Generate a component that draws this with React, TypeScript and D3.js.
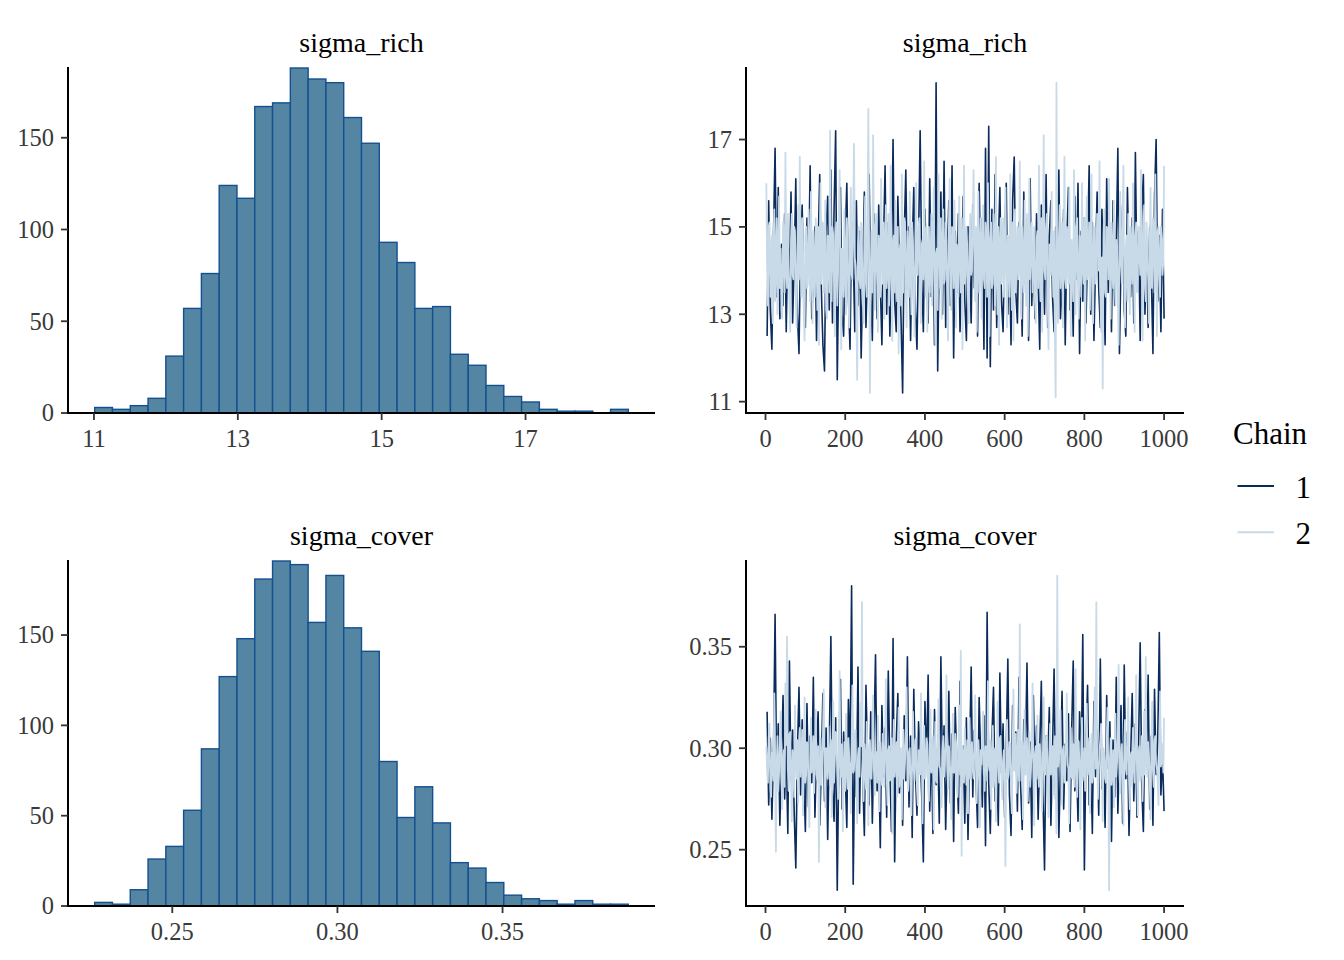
import React from 'react';
import * as d3 from 'd3';

// ---------------- DATA ----------------
const paramNames = ['sigma_rich', 'sigma_cover'];
const chainLabels = ['1', '2'];

// histogram counts (30 bins each)
const richCounts = [3, 2, 4, 8, 31, 57, 76, 124, 117, 167, 169, 188, 182, 180, 161, 147, 93, 82, 57, 58, 32, 26, 15, 9, 6, 2, 1, 1, 0, 2];
const richBinStart = 11.01;
const richBinWidth = 0.2473;
const coverCounts = [2, 1, 9, 26, 33, 53, 87, 127, 148, 181, 191, 189, 157, 183, 154, 141, 80, 49, 66, 46, 24, 21, 13, 6, 4, 3, 1, 3, 1, 1];
const coverBinStart = 0.2265;
const coverBinWidth = 0.005386;

// tick values
const richHistXTicks = [11, 13, 15, 17];
const coverHistXTicks = [0.25, 0.3, 0.35];
const histYTicks = [0, 50, 100, 150];
const traceXTicks = [0, 200, 400, 600, 800, 1000];
const richTraceYTicks = [11, 13, 15, 17];
const coverTraceYTicks = [0.25, 0.3, 0.35];

// trace draws over 1000 iterations (chain 1 thinned to every 4th, chain 2 to every 2nd)
const N_ITER = 1000;

const richChain1 = [
  12.5, 15.6, 13.1, 12.2, 14.8, 16.8, 13.4, 15.9, 12.9, 14.6,
  13.2, 15.3, 12.6, 14.9, 13.7, 15.8, 12.8, 14.2, 16.1, 13.0,
  12.1, 14.7, 15.5, 13.3, 12.7, 15.2, 14.0, 16.4, 12.9, 13.8,
  15.0, 12.4, 14.5, 16.2, 13.6, 12.3, 11.7, 14.9, 15.7, 13.1,
  16.3, 12.8, 15.4, 17.2, 11.5, 14.3, 15.9, 13.0, 12.5, 14.8,
  16.0, 13.4, 12.2, 15.1, 14.4, 12.6, 15.6, 13.2, 14.9, 12.0,
  13.9, 15.8, 12.7, 14.1, 16.2, 13.5, 12.4, 15.3, 14.0, 12.9,
  15.5, 13.7, 12.3, 14.6, 16.4, 13.0, 15.1, 12.5, 14.2, 17.0,
  13.3, 12.6, 15.7, 14.1, 12.9, 11.2, 14.8, 16.3, 13.6, 15.0,
  12.4, 14.5, 15.9, 13.1, 12.2, 14.7, 17.2, 13.8, 12.6, 15.4,
  14.0, 12.8, 16.1, 13.4, 15.2, 12.3, 18.3, 11.7, 14.6, 15.8,
  13.0, 16.5, 12.7, 14.3, 15.6, 13.2, 16.4, 12.0, 14.9, 13.5,
  15.3, 12.6, 14.1, 15.7, 13.3, 12.4, 15.0, 14.2, 12.8, 15.5,
  13.6, 14.8, 12.5, 16.0, 13.9, 15.2, 12.2, 16.8, 12.0, 17.3,
  11.8, 15.4, 13.1, 16.2, 12.7, 14.5, 15.9, 13.3, 12.6, 14.7,
  16.0, 13.0, 14.4, 12.3, 15.6, 16.6, 13.5, 12.8, 15.1, 14.0,
  12.5, 15.8, 13.7, 14.9, 12.4, 16.1, 13.2, 14.6, 12.9, 15.3,
  13.8, 12.2, 15.5, 14.3, 13.0, 16.2, 12.7, 14.8, 15.6, 13.4,
  12.6, 15.0, 14.1, 16.3, 12.9, 13.6, 15.4, 12.3, 14.7, 15.9,
  13.1, 14.4, 12.5, 15.7, 13.8, 16.0, 12.1, 14.9, 13.3, 15.2,
  12.8, 14.5, 16.4, 13.0, 15.1, 12.4, 14.2, 15.8, 13.6, 12.7,
  15.4, 14.0, 12.3, 16.1, 13.5, 14.8, 12.6, 15.6, 13.2, 14.6,
  16.8, 12.1, 14.3, 15.5, 13.1, 12.5, 15.9, 14.1, 13.4, 15.2,
  12.8, 16.7, 13.7, 14.9, 12.4, 15.3, 16.2, 13.0, 14.5, 12.7,
  15.0, 13.9, 12.1, 15.7, 17.0, 13.3, 14.8, 12.6, 15.4, 12.9,
];

const richChain2 = [
  16.0, 14.1, 13.2, 15.0, 15.1, 13.4, 13.9, 14.8, 12.8, 14.6, 15.4, 13.3, 14.2, 15.2, 13.0, 14.4, 15.7, 13.6, 14.5, 13.1,
  12.9, 15.1, 14.8, 13.5, 16.7, 14.0, 13.6, 15.3, 14.1, 13.2, 12.6, 14.7, 15.3, 13.9, 13.8, 15.0, 14.9, 13.4, 12.7, 14.5,
  15.5, 13.8, 16.6, 14.2, 13.4, 15.2, 14.6, 13.0, 12.4, 14.8, 15.0, 13.6, 13.7, 15.4, 14.3, 13.3, 15.8, 14.1, 12.8, 14.9,
  14.0, 13.4, 15.2, 14.3, 13.1, 15.0, 12.3, 14.6, 16.0, 13.7, 14.4, 15.1, 13.5, 14.2, 15.6, 13.1, 12.9, 14.8, 14.7, 13.5,
  17.2, 14.4, 13.3, 15.0, 14.8, 13.6, 12.5, 14.9, 15.1, 13.2, 13.9, 15.3, 16.3, 14.0, 12.2, 14.5, 14.2, 13.4, 15.4, 14.1,
  13.0, 15.2, 14.6, 13.5, 12.7, 14.7, 15.9, 13.9, 13.8, 15.4, 16.9, 14.3, 14.1, 13.0, 11.5, 14.6, 15.0, 13.8, 13.6, 15.1,
  14.4, 13.3, 12.8, 14.9, 15.7, 13.7, 13.4, 15.2, 17.7, 14.2, 11.2, 14.0, 14.9, 13.5, 17.1, 14.6, 13.1, 15.0, 15.3, 13.9,
  12.6, 14.8, 14.5, 13.4, 16.1, 14.3, 13.7, 15.1, 12.9, 14.5, 15.5, 13.6, 14.0, 15.3, 13.2, 14.2, 16.4, 13.8, 12.4, 14.7,
  14.8, 13.5, 15.6, 14.1, 13.3, 15.0, 12.1, 14.4, 14.6, 13.2, 16.2, 14.6, 13.5, 15.2, 15.1, 13.7, 12.7, 14.9, 14.2, 13.4,
  15.8, 14.0, 13.0, 15.1, 14.4, 13.6, 12.5, 14.8, 16.0, 13.9, 13.9, 15.0, 15.2, 13.3, 12.8, 14.6, 14.7, 13.8, 16.5, 14.2,
  13.4, 15.0, 12.6, 14.3, 15.0, 13.5, 14.1, 15.3, 13.2, 14.7, 15.9, 13.8, 12.3, 14.4, 14.5, 13.1, 16.2, 14.9, 13.6, 15.2,
  12.9, 14.5, 15.4, 13.7, 13.8, 15.1, 14.7, 13.3, 12.4, 14.9, 16.1, 14.0, 13.1, 15.0, 14.9, 13.6, 15.6, 14.3, 12.7, 14.6,
  14.3, 13.4, 15.7, 14.5, 13.5, 15.2, 12.2, 14.1, 16.4, 13.7, 13.9, 15.0, 14.6, 13.3, 12.8, 14.8, 15.3, 13.9, 14.0, 15.1,
  16.3, 14.2, 13.3, 15.0, 12.6, 14.6, 15.8, 13.5, 14.2, 15.2, 12.9, 14.4, 15.5, 13.8, 13.6, 15.1, 14.8, 13.4, 16.0, 14.5,
  12.5, 14.7, 15.1, 13.6, 13.7, 15.3, 14.4, 13.2, 16.6, 14.1, 13.0, 15.0, 12.3, 14.5, 15.2, 13.7, 14.1, 15.2, 13.4, 14.4,
  15.9, 13.9, 12.7, 14.8, 14.7, 13.4, 16.2, 14.3, 13.1, 15.1, 12.4, 14.6, 15.4, 13.5, 14.3, 15.0, 13.8, 14.2, 16.5, 13.6,
  12.9, 15.0, 14.0, 13.5, 15.6, 14.2, 13.2, 15.3, 12.5, 14.4, 16.1, 13.8, 14.6, 15.1, 13.5, 14.0, 15.0, 13.3, 12.8, 14.7,
  14.9, 13.6, 16.4, 14.4, 13.3, 15.2, 12.6, 14.8, 17.1, 14.0, 13.8, 15.0, 15.3, 13.4, 12.2, 14.6, 14.5, 13.9, 15.8, 14.3,
  13.4, 14.9, 12.6, 11.1, 18.3, 13.5, 12.8, 14.7, 15.5, 13.6, 14.2, 15.1, 12.7, 14.3, 16.6, 13.8, 13.6, 15.0, 14.8, 13.7,
  15.9, 14.2, 12.5, 14.7, 14.1, 13.3, 16.3, 14.5, 13.0, 15.0, 15.2, 13.6, 12.9, 14.8, 14.6, 13.4, 16.0, 14.1, 13.7, 15.2,
  12.4, 14.6, 15.7, 13.8, 14.3, 15.1, 13.1, 14.4, 16.2, 13.5, 12.8, 14.9, 15.0, 13.7, 13.9, 15.3, 14.7, 14.0, 16.5, 13.6,
  12.6, 14.3, 11.3, 14.8, 15.4, 13.5, 13.4, 15.0, 14.9, 13.8, 16.1, 14.4, 12.9, 15.1, 14.2, 13.6, 15.6, 14.0, 13.2, 14.7,
  14.5, 13.4, 12.3, 14.9, 15.8, 14.1, 13.7, 15.2, 16.4, 13.6, 12.7, 14.5, 14.8, 13.3, 15.3, 14.2, 13.0, 15.0, 14.1, 13.7,
  16.0, 14.3, 12.6, 14.8, 15.1, 13.5, 13.8, 15.0, 14.6, 13.9, 16.3, 14.2, 12.4, 14.7, 15.5, 13.6, 13.3, 15.1, 14.4, 13.8,
  12.8, 14.5, 15.9, 13.7, 13.6, 15.2, 14.9, 13.5, 16.2, 14.4, 12.5, 14.9, 15.0, 13.8, 13.4, 15.0, 14.7, 13.9, 14.2, 16.4,
];

const coverChain1 = [
  0.318, 0.272, 0.305, 0.265, 0.298, 0.366, 0.281, 0.312, 0.262, 0.293,
  0.326, 0.275, 0.301, 0.258, 0.343, 0.284, 0.309, 0.268, 0.241, 0.297,
  0.330, 0.277, 0.314, 0.289, 0.259, 0.322, 0.271, 0.306, 0.283, 0.335,
  0.266, 0.299, 0.318, 0.262, 0.291, 0.327, 0.274, 0.310, 0.255, 0.302,
  0.355, 0.280, 0.264, 0.315, 0.230, 0.296, 0.334, 0.270, 0.308, 0.287,
  0.261, 0.324, 0.293, 0.380, 0.233, 0.301, 0.276, 0.340, 0.268, 0.312,
  0.285, 0.257, 0.331, 0.295, 0.272, 0.318, 0.263, 0.304, 0.346, 0.279,
  0.297, 0.251, 0.321, 0.286, 0.310, 0.266, 0.338, 0.290, 0.259, 0.354,
  0.244, 0.303, 0.327, 0.278, 0.292, 0.262, 0.316, 0.284, 0.345, 0.271,
  0.306, 0.256, 0.329, 0.289, 0.267, 0.313, 0.298, 0.276, 0.244, 0.323,
  0.291, 0.336, 0.269, 0.304, 0.258, 0.319, 0.282, 0.300, 0.263, 0.345,
  0.287, 0.311, 0.260, 0.296, 0.328, 0.273, 0.307, 0.254, 0.320, 0.292,
  0.268, 0.333, 0.281, 0.301, 0.263, 0.315, 0.255, 0.297, 0.340, 0.276,
  0.309, 0.285, 0.261, 0.325, 0.294, 0.271, 0.316, 0.252, 0.367, 0.283,
  0.258, 0.305, 0.330, 0.274, 0.296, 0.262, 0.337, 0.288, 0.312, 0.266,
  0.300, 0.344, 0.277, 0.257, 0.321, 0.290, 0.308, 0.269, 0.335, 0.282,
  0.260, 0.314, 0.295, 0.342, 0.273, 0.303, 0.256, 0.326, 0.287, 0.311,
  0.265, 0.299, 0.333, 0.278, 0.240, 0.306, 0.291, 0.320, 0.262, 0.298,
  0.339, 0.275, 0.310, 0.256, 0.293, 0.328, 0.270, 0.302, 0.284, 0.317,
  0.259, 0.307, 0.343, 0.279, 0.296, 0.264, 0.318, 0.288, 0.356, 0.240,
  0.301, 0.331, 0.272, 0.295, 0.258, 0.323, 0.286, 0.309, 0.267, 0.344,
  0.280, 0.297, 0.261, 0.326, 0.290, 0.313, 0.254, 0.304, 0.276, 0.335,
  0.268, 0.299, 0.321, 0.263, 0.341, 0.285, 0.308, 0.257, 0.294, 0.327,
  0.274, 0.312, 0.266, 0.302, 0.352, 0.281, 0.259, 0.319, 0.291, 0.336,
  0.270, 0.306, 0.262, 0.329, 0.287, 0.303, 0.357, 0.277, 0.296, 0.269,
];

const coverChain2 = [
  0.301, 0.289, 0.283, 0.305, 0.312, 0.280, 0.276, 0.298, 0.295, 0.284, 0.327, 0.293, 0.249, 0.291, 0.306, 0.279, 0.288, 0.303, 0.318, 0.286,
  0.270, 0.296, 0.299, 0.281, 0.332, 0.302, 0.355, 0.290, 0.279, 0.307, 0.308, 0.284, 0.264, 0.299, 0.293, 0.276, 0.321, 0.294, 0.285, 0.304,
  0.273, 0.300, 0.310, 0.286, 0.296, 0.309, 0.267, 0.292, 0.325, 0.283, 0.287, 0.303, 0.302, 0.278, 0.261, 0.295, 0.315, 0.288, 0.292, 0.306,
  0.278, 0.297, 0.319, 0.287, 0.284, 0.301, 0.244, 0.289, 0.305, 0.282, 0.290, 0.306, 0.329, 0.294, 0.271, 0.300, 0.297, 0.285, 0.311, 0.292,
  0.282, 0.304, 0.266, 0.293, 0.323, 0.283, 0.294, 0.308, 0.307, 0.287, 0.275, 0.298, 0.338, 0.291, 0.286, 0.302, 0.259, 0.290, 0.303, 0.279,
  0.317, 0.295, 0.280, 0.305, 0.296, 0.284, 0.268, 0.299, 0.331, 0.288, 0.289, 0.307, 0.309, 0.281, 0.263, 0.296, 0.300, 0.286, 0.322, 0.301,
  0.372, 0.290, 0.274, 0.302, 0.292, 0.280, 0.313, 0.294, 0.262, 0.300, 0.304, 0.285, 0.285, 0.306, 0.326, 0.289, 0.277, 0.297, 0.298, 0.283,
  0.316, 0.292, 0.269, 0.303, 0.290, 0.282, 0.307, 0.296, 0.281, 0.304, 0.334, 0.287, 0.272, 0.299, 0.301, 0.284, 0.288, 0.305, 0.258, 0.293,
  0.314, 0.286, 0.295, 0.303, 0.276, 0.297, 0.320, 0.281, 0.287, 0.300, 0.265, 0.292, 0.309, 0.285, 0.293, 0.306, 0.330, 0.290, 0.279, 0.298,
  0.300, 0.283, 0.267, 0.296, 0.318, 0.289, 0.284, 0.304, 0.305, 0.280, 0.272, 0.299, 0.291, 0.287, 0.327, 0.301, 0.263, 0.294, 0.311, 0.285,
  0.286, 0.305, 0.302, 0.281, 0.274, 0.297, 0.319, 0.288, 0.296, 0.306, 0.260, 0.292, 0.313, 0.284, 0.283, 0.300, 0.324, 0.291, 0.290, 0.279,
  0.271, 0.298, 0.306, 0.286, 0.293, 0.303, 0.336, 0.290, 0.280, 0.301, 0.298, 0.284, 0.265, 0.295, 0.317, 0.288, 0.288, 0.307, 0.303, 0.282,
  0.276, 0.299, 0.321, 0.287, 0.348, 0.247, 0.301, 0.294, 0.283, 0.310, 0.292, 0.282, 0.304, 0.268, 0.295, 0.315, 0.285, 0.297, 0.303, 0.289,
  0.285, 0.302, 0.326, 0.290, 0.273, 0.296, 0.304, 0.283, 0.261, 0.299, 0.292, 0.306, 0.318, 0.287, 0.279, 0.301, 0.300, 0.284, 0.333, 0.293,
  0.289, 0.304, 0.270, 0.292, 0.311, 0.281, 0.295, 0.300, 0.264, 0.288, 0.323, 0.297, 0.283, 0.305, 0.306, 0.286, 0.275, 0.294, 0.299, 0.282,
  0.242, 0.291, 0.314, 0.285, 0.287, 0.303, 0.302, 0.280, 0.268, 0.296, 0.329, 0.289, 0.293, 0.307, 0.278, 0.294, 0.309, 0.284, 0.361, 0.298,
  0.284, 0.303, 0.265, 0.293, 0.319, 0.287, 0.296, 0.305, 0.274, 0.291, 0.308, 0.281, 0.290, 0.300, 0.332, 0.288, 0.262, 0.297, 0.301, 0.285,
  0.316, 0.290, 0.281, 0.302, 0.295, 0.283, 0.269, 0.298, 0.325, 0.289, 0.287, 0.306, 0.304, 0.284, 0.266, 0.295, 0.312, 0.287, 0.292, 0.301,
  0.277, 0.296, 0.306, 0.284, 0.258, 0.385, 0.291, 0.294, 0.303, 0.319, 0.288, 0.272, 0.299, 0.301, 0.283, 0.288, 0.305, 0.327, 0.292, 0.290,
  0.263, 0.294, 0.310, 0.286, 0.285, 0.302, 0.297, 0.281, 0.339, 0.295, 0.276, 0.304, 0.303, 0.288, 0.260, 0.298, 0.315, 0.284, 0.290, 0.300,
  0.279, 0.297, 0.322, 0.287, 0.294, 0.305, 0.268, 0.292, 0.307, 0.283, 0.286, 0.301, 0.330, 0.290, 0.372, 0.296, 0.275, 0.288, 0.299, 0.304,
  0.312, 0.291, 0.264, 0.300, 0.296, 0.285, 0.283, 0.303, 0.320, 0.289, 0.230, 0.294, 0.305, 0.282, 0.289, 0.299, 0.271, 0.292, 0.317, 0.286,
  0.293, 0.305, 0.341, 0.288, 0.278, 0.297, 0.302, 0.284, 0.262, 0.300, 0.314, 0.290, 0.287, 0.303, 0.325, 0.285, 0.270, 0.296, 0.298, 0.281,
  0.310, 0.294, 0.283, 0.302, 0.336, 0.289, 0.267, 0.298, 0.301, 0.284, 0.292, 0.306, 0.274, 0.291, 0.318, 0.287, 0.345, 0.296, 0.286, 0.303,
  0.297, 0.284, 0.265, 0.300, 0.323, 0.289, 0.281, 0.304, 0.306, 0.292, 0.290, 0.283, 0.272, 0.298, 0.328, 0.291, 0.295, 0.302, 0.288, 0.315,
];

// ---------------- STYLE / LAYOUT ----------------
const W = 1344;
const H = 960;
const FONT = "'Liberation Serif', 'Times New Roman', Times, serif";
const HIST_FILL = '#5486a3';
const HIST_STROKE = '#14508f';
const CHAIN_COLORS = ['#0a2b5c', '#c8dae8'];
const CHAIN_WIDTHS = [1.6, 1.8];
const TICK_COLOR = '#333333';
const TICK_TEXT = '#3a3a3a';
const TICK_LEN = 7;
const TICK_FS = 24.5;
const TITLE_FS = 28;
const LEGEND_FS = 31;

const rows = [
  { top: 67, bottom: 413 },
  { top: 560, bottom: 906 },
];
const histCol = { left: 68, right: 655 };
const traceCol = { left: 746, right: 1184 };

const expand = (lo: number, hi: number, f = 0.05) => {
  const r = hi - lo;
  return [lo - r * f, hi + r * f];
};

type AxisProps = {
  left: number; right: number; top: number; bottom: number;
  xScale: d3.ScaleLinear<number, number>; yScale: d3.ScaleLinear<number, number>;
  xTicks: number[]; yTicks: number[];
  xFmt: (v: number) => string; yFmt: (v: number) => string;
  title: string;
};

function Axes(p: AxisProps) {
  return (
    <g>
      <text
        x={(p.left + p.right) / 2}
        y={p.top - 15.3}
        textAnchor="middle"
        fontFamily={FONT}
        fontSize={TITLE_FS}
        fill="#000"
      >
        {p.title}
      </text>
      {/* y axis */}
      <line x1={p.left} x2={p.left} y1={p.top} y2={p.bottom + 1} stroke="#000" strokeWidth={2} />
      {p.yTicks.map((t) => (
        <g key={'y' + t}>
          <line x1={p.left - TICK_LEN} x2={p.left} y1={p.yScale(t)} y2={p.yScale(t)} stroke={TICK_COLOR} strokeWidth={1.8} />
          <text
            x={p.left - TICK_LEN - 7}
            y={p.yScale(t) + 8.4}
            textAnchor="end"
            fontFamily={FONT}
            fontSize={TICK_FS}
            fill={TICK_TEXT}
          >
            {p.yFmt(t)}
          </text>
        </g>
      ))}
      {/* x axis */}
      <line x1={p.left - 1} x2={p.right} y1={p.bottom} y2={p.bottom} stroke="#000" strokeWidth={2} />
      {p.xTicks.map((t) => (
        <g key={'x' + t}>
          <line x1={p.xScale(t)} x2={p.xScale(t)} y1={p.bottom} y2={p.bottom + TICK_LEN} stroke={TICK_COLOR} strokeWidth={1.8} />
          <text
            x={p.xScale(t)}
            y={p.bottom + 33.5}
            textAnchor="middle"
            fontFamily={FONT}
            fontSize={TICK_FS}
            fill={TICK_TEXT}
          >
            {p.xFmt(t)}
          </text>
        </g>
      ))}
    </g>
  );
}

function HistPanel({ counts, start, width, xTicks, xFmt, row, title }: {
  counts: number[]; start: number; width: number; xTicks: number[];
  xFmt: (v: number) => string; row: { top: number; bottom: number }; title: string;
}) {
  const end = start + counts.length * width;
  const xScale = d3.scaleLinear().domain(expand(start, end)).range([histCol.left, histCol.right]);
  const yScale = d3.scaleLinear().domain([0, d3.max(counts) as number]).range([row.bottom, row.top + 1]);
  return (
    <g>
      {counts.map((c, i) =>
        c > 0 ? (
          <rect
            key={i}
            x={xScale(start + i * width)}
            y={yScale(c)}
            width={xScale(start + (i + 1) * width) - xScale(start + i * width)}
            height={yScale(0) - yScale(c)}
            fill={HIST_FILL}
            stroke={HIST_STROKE}
            strokeWidth={1.4}
          />
        ) : null
      )}
      <Axes
        left={histCol.left}
        right={histCol.right}
        top={row.top}
        bottom={row.bottom}
        xScale={xScale}
        yScale={yScale}
        xTicks={xTicks}
        yTicks={histYTicks}
        xFmt={xFmt}
        yFmt={d3.format('d')}
        title={title}
      />
    </g>
  );
}

function TracePanel({ chains, yTicks, yFmt, row, title }: {
  chains: number[][]; yTicks: number[]; yFmt: (v: number) => string;
  row: { top: number; bottom: number }; title: string;
}) {
  const xScale = d3.scaleLinear().domain(expand(1, N_ITER)).range([traceCol.left, traceCol.right]);
  const all = chains.flat();
  const yScale = d3
    .scaleLinear()
    .domain(expand(d3.min(all) as number, d3.max(all) as number))
    .range([row.bottom, row.top]);
  return (
    <g>
      {chains.map((ch, ci) => {
        const step = N_ITER / ch.length;
        const line = d3
          .line<number>()
          .x((_, i) => xScale((i + 1) * step))
          .y((d) => yScale(d));
        return (
          <path
            key={ci}
            d={line(ch) || ''}
            fill="none"
            stroke={CHAIN_COLORS[ci]}
            strokeWidth={CHAIN_WIDTHS[ci]}
            strokeLinejoin="round"
          />
        );
      })}
      <Axes
        left={traceCol.left}
        right={traceCol.right}
        top={row.top}
        bottom={row.bottom}
        xScale={xScale}
        yScale={yScale}
        xTicks={traceXTicks}
        yTicks={yTicks}
        xFmt={d3.format('d')}
        yFmt={yFmt}
        title={title}
      />
    </g>
  );
}

export default function App() {
  const intFmt = d3.format('d');
  const f2 = d3.format('.2f');
  return (
    <svg
      width={W}
      height={H}
      viewBox={`0 0 ${W} ${H}`}
      style={{ position: 'absolute', left: 0, top: 0, background: '#fff' }}
    >
      <rect x={0} y={0} width={W} height={H} fill="#fff" />
      <HistPanel
        counts={richCounts}
        start={richBinStart}
        width={richBinWidth}
        xTicks={richHistXTicks}
        xFmt={intFmt}
        row={rows[0]}
        title={paramNames[0]}
      />
      <TracePanel
        chains={[richChain1, richChain2]}
        yTicks={richTraceYTicks}
        yFmt={intFmt}
        row={rows[0]}
        title={paramNames[0]}
      />
      <HistPanel
        counts={coverCounts}
        start={coverBinStart}
        width={coverBinWidth}
        xTicks={coverHistXTicks}
        xFmt={f2}
        row={rows[1]}
        title={paramNames[1]}
      />
      <TracePanel
        chains={[coverChain1, coverChain2]}
        yTicks={coverTraceYTicks}
        yFmt={f2}
        row={rows[1]}
        title={paramNames[1]}
      />
      {/* legend */}
      <g fontFamily={FONT} fill="#000">
        <text x={1233} y={444.3} fontSize={LEGEND_FS}>Chain</text>
        {chainLabels.map((lab, i) => (
          <g key={lab}>
            <line
              x1={1237.5}
              x2={1274}
              y1={486 + i * 46.3}
              y2={486 + i * 46.3}
              stroke={CHAIN_COLORS[i]}
              strokeWidth={2}
            />
            <text x={1295.5} y={498.3 + i * 45.7} fontSize={LEGEND_FS}>{lab}</text>
          </g>
        ))}
      </g>
    </svg>
  );
}
